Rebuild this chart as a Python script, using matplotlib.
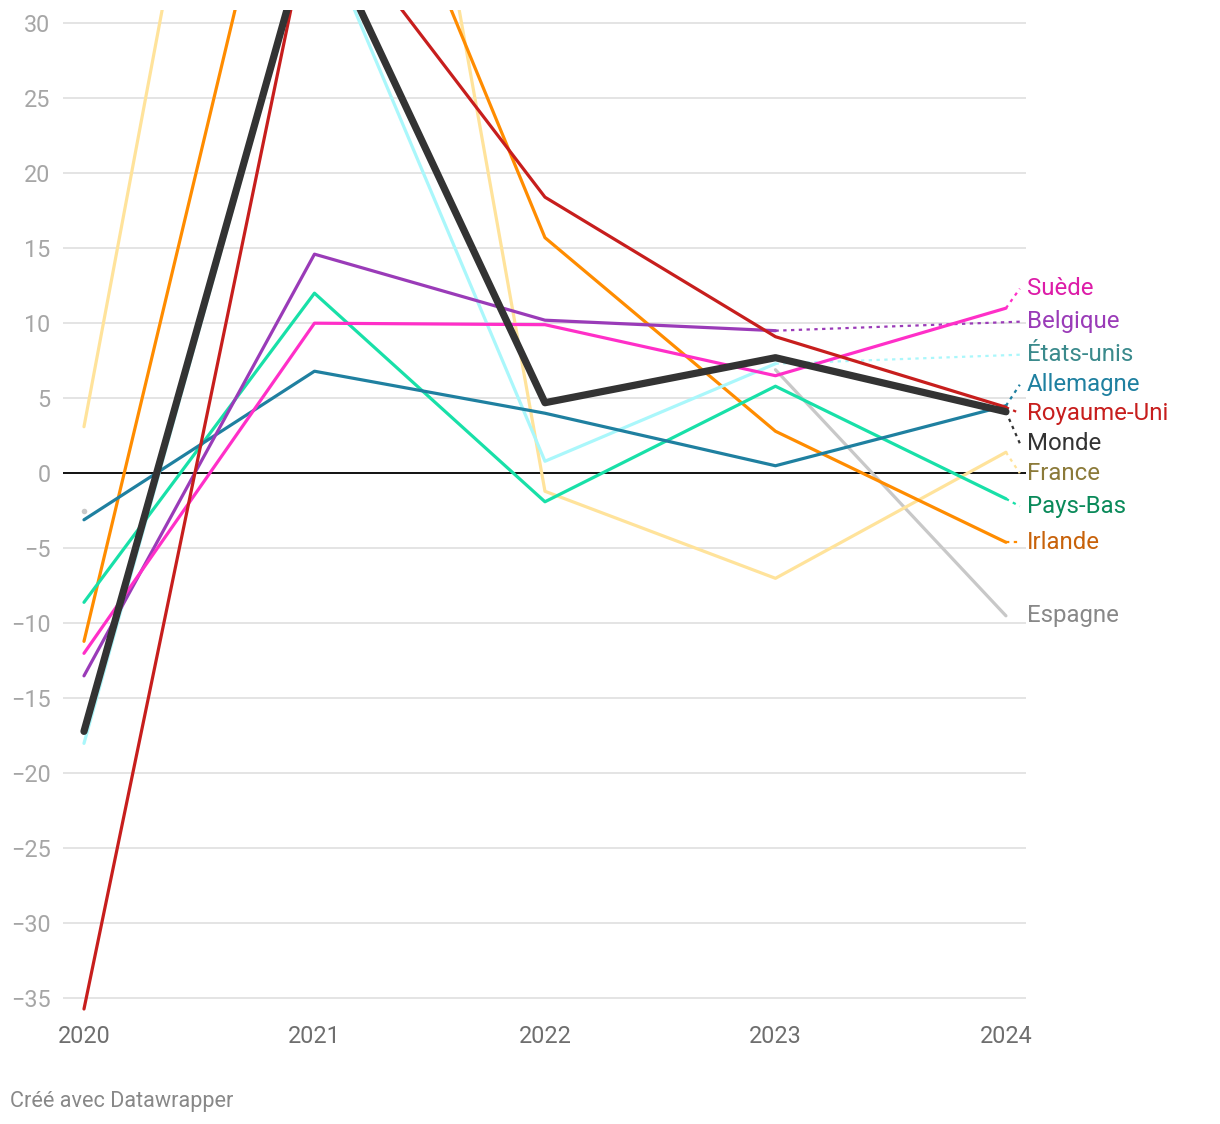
import numpy as np
import matplotlib.pyplot as plt

plt.rcParams['font.family'] = ['Roboto', 'DejaVu Sans']

nan = np.nan
years = [2020, 2021, 2022, 2023, 2024]

# variation annuelle (%)
suede = [-12.0, 10.0, 9.9, 6.5, 11.0]
belgique = [-13.5, 14.6, 10.2, 9.5, nan]
etats_unis = [-18.0, 37.2, 0.8, 7.3, nan]
allemagne = [-3.1, 6.8, 4.0, 0.5, 4.5]
royaume_uni = [-35.7, 38.5, 18.4, 9.1, 4.4]
monde = [-17.2, 37.4, 4.7, 7.7, 4.1]
france = [3.1, 85.0, -1.2, -7.0, 1.4]
pays_bas = [-8.6, 12.0, -1.9, 5.8, -1.7]
irlande = [-11.2, 53.0, 15.7, 2.8, -4.6]
espagne = [-2.5, nan, nan, 6.9, -9.5]

# name, values, line colour, label colour, label y (layout), connector
series = [
    ('Espagne', espagne, '#c8c8c8', '#888888', -9.5, False),
    ('France', france, '#ffe39b', '#8b7a3a', 0.0, True),
    ('Irlande', irlande, '#ff8c00', '#c8620a', -4.6, True),
    ('États-unis', etats_unis, '#aaf7fb', '#3b8a8c', 7.9, True),
    ('Pays-Bas', pays_bas, '#18e0a8', '#0a8a5a', -2.2, True),
    ('Allemagne', allemagne, '#1f80a0', '#1f80a0', 5.9, True),
    ('Belgique', belgique, '#9a3bb8', '#9a3bb8', 10.1, True),
    ('Suède', suede, '#ff2fc8', '#dd1ca8', 12.3, True),
    ('Royaume-Uni', royaume_uni, '#c71e1d', '#c71e1d', 4.0, True),
    ('Monde', monde, '#333333', '#333333', 2.0, True),
]

fig = plt.figure(figsize=(12.2, 11.24), dpi=100)
ax = fig.add_axes([63 / 1220, 1 - 1015 / 1124, (1026 - 63) / 1220, (1015 - 10) / 1124])

ax.set_xlim(2019.909, 2024.087)
ax.set_ylim(-36.1, 30.87)

for v in range(-35, 31, 5):
    if v == 0:
        ax.axhline(0, color='#111111', lw=1.4, zorder=1)
    else:
        ax.axhline(v, color='#e2e2e2', lw=1.3, zorder=0)

x_lab = 2024.06
for i, (name, vals, col, lcol, ly, conn) in enumerate(series):
    arr = np.array(vals, dtype=float)
    lw = 5.2 if name == 'Monde' else 2.3
    z = 10 if name == 'Monde' else 3 + i * 0.1
    ax.plot(years, arr, color=col, lw=lw, solid_capstyle='round',
            solid_joinstyle='round', zorder=z)
    # isolated points
    for j in range(len(arr)):
        if np.isnan(arr[j]):
            continue
        left = j == 0 or np.isnan(arr[j - 1])
        right = j == len(arr) - 1 or np.isnan(arr[j + 1])
        if left and right:
            ax.plot(years[j], arr[j], 'o', color=col, ms=4, mec='none', zorder=z)
    # connector to label
    if conn:
        last = np.where(~np.isnan(arr))[0][-1]
        ax.plot([years[last], x_lab], [arr[last], ly], color=col, lw=1.6,
                ls=(0, (1.5, 2)), zorder=z, clip_on=False)
    ax.text(2024.091, ly, name, color=lcol, fontsize=17.3, va='center',
            ha='left', clip_on=False)

ax.set_xticks(years)
ax.set_xticklabels([str(y) for y in years])
ax.set_yticks(range(-35, 31, 5))
ax.tick_params(axis='both', length=0)
ax.tick_params(axis='x', pad=7, labelsize=16.8, labelcolor='#6e6e6e')
ax.tick_params(axis='y', pad=9, labelsize=16.8, labelcolor='#a6a6a6')
for s in ax.spines.values():
    s.set_visible(False)

fig.text(10 / 1220, 1 - 1101 / 1124, 'Créé avec Datawrapper', fontsize=15.6,
         color='#888888', va='center', ha='left')

fig.savefig('out.png', dpi=100)
